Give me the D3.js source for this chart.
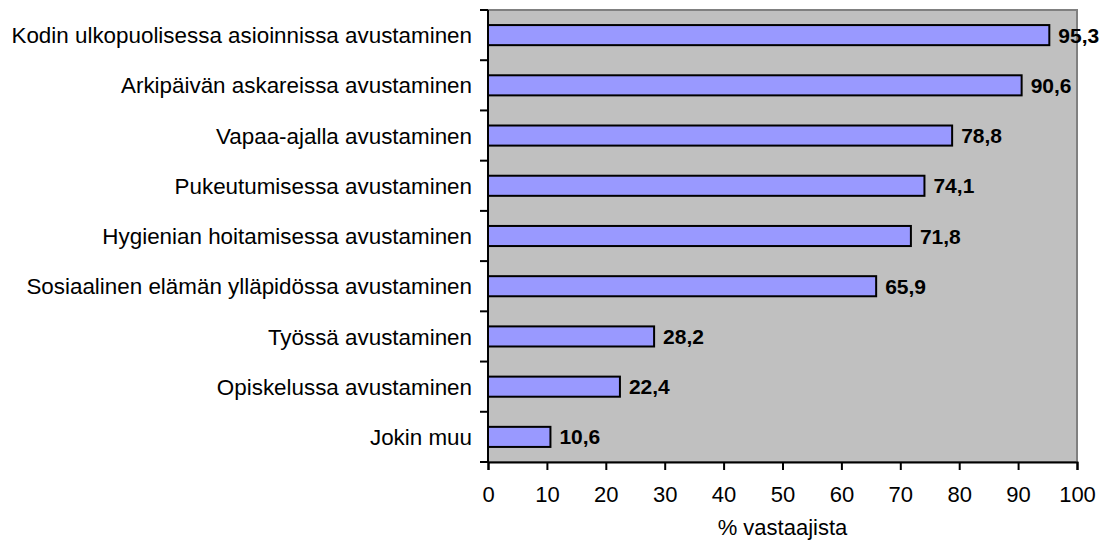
<!DOCTYPE html>
<html>
<head>
<meta charset="utf-8">
<script src="https://cdn.jsdelivr.net/npm/d3@7"></script>
<style>
  body { margin: 0; background: #fff; }
  svg { display: block; }
  text { font-family: "Liberation Sans", Arial, sans-serif; }
</style>
</head>
<body>
<svg id="chart" width="1114" height="545"></svg>
<script>
const categories = [
  "Kodin ulkopuolisessa asioinnissa avustaminen",
  "Arkipäivän askareissa avustaminen",
  "Vapaa-ajalla avustaminen",
  "Pukeutumisessa avustaminen",
  "Hygienian hoitamisessa avustaminen",
  "Sosiaalinen elämän ylläpidössa avustaminen",
  "Työssä avustaminen",
  "Opiskelussa avustaminen",
  "Jokin muu"
];
const values = [95.3, 90.6, 78.8, 74.1, 71.8, 65.9, 28.2, 22.4, 10.6];
const xTicks = [0, 10, 20, 30, 40, 50, 60, 70, 80, 90, 100];
const xTitle = "% vastaajista";

const svg = d3.select("#chart");
const plot = { left: 488, right: 1077, top: 10, bottom: 462 };
const fontSize = 22;

const x = d3.scaleLinear().domain([0, 100]).range([plot.left, plot.right]);
const y = d3.scaleBand().domain(categories).range([plot.top, plot.bottom])
  .paddingInner(0.6).paddingOuter(0.3);
const band = d3.scaleBand().domain(categories).range([plot.top, plot.bottom]);

// plot background with grey frame
svg.append("rect")
  .attr("x", plot.left).attr("y", plot.top)
  .attr("width", plot.right - plot.left).attr("height", plot.bottom - plot.top)
  .attr("fill", "#c0c0c0").attr("stroke", "#808080").attr("stroke-width", 2);

// bars
svg.append("g").selectAll("rect").data(values).join("rect")
  .attr("x", x(0))
  .attr("y", (d, i) => y(categories[i]))
  .attr("width", d => x(d) - x(0))
  .attr("height", y.bandwidth())
  .attr("fill", "#9999ff").attr("stroke", "#000").attr("stroke-width", 2);

// value labels
svg.append("g").selectAll("text").data(values).join("text")
  .attr("x", d => x(d) + 9)
  .attr("y", (d, i) => y(categories[i]) + y.bandwidth() / 2)
  .attr("dy", "0.36em")
  .attr("font-size", fontSize - 1).attr("font-weight", "bold").attr("fill", "#000")
  .text(d => d3.format(".1f")(d).replace(".", ","));

// category axis: ticks at band boundaries
const yAxis = svg.append("g");
yAxis.append("line")
  .attr("x1", plot.left).attr("x2", plot.left)
  .attr("y1", plot.top).attr("y2", plot.bottom)
  .attr("stroke", "#000").attr("stroke-width", 2);
const bounds = categories.map(c => band(c)).concat([plot.bottom]);
yAxis.selectAll("line.tick").data(bounds).join("line").attr("class", "tick")
  .attr("x1", plot.left - 8).attr("x2", plot.left)
  .attr("y1", d => d).attr("y2", d => d)
  .attr("stroke", "#000").attr("stroke-width", 2);
yAxis.selectAll("text").data(categories).join("text")
  .attr("x", plot.left - 16)
  .attr("y", d => band(d) + band.bandwidth() / 2)
  .attr("dy", "0.36em").attr("text-anchor", "end")
  .attr("font-size", 22.4).attr("fill", "#000")
  .text(d => d);

// value axis
const xAxis = svg.append("g")
  .attr("transform", `translate(0,${plot.bottom})`)
  .call(d3.axisBottom(x).tickValues(xTicks).tickSize(8).tickPadding(16).tickFormat(d3.format("d")));
xAxis.select(".domain").attr("stroke", "#000").attr("stroke-width", 2);
xAxis.selectAll(".tick line").attr("stroke", "#000").attr("stroke-width", 2);
xAxis.selectAll(".tick text").attr("font-size", fontSize).attr("fill", "#000")
  .attr("font-family", "Liberation Sans, Arial, sans-serif");

svg.append("text")
  .attr("x", (plot.left + plot.right) / 2).attr("y", 535)
  .attr("text-anchor", "middle")
  .attr("font-size", fontSize).attr("fill", "#000")
  .text(xTitle);
</script>
</body>
</html>
